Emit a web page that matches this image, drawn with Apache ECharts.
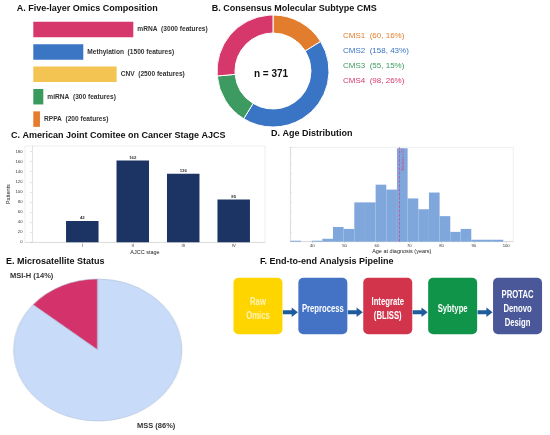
<!DOCTYPE html>
<html><head><meta charset="utf-8">
<script src="https://cdn.jsdelivr.net/npm/echarts@6/dist/echarts.min.js"></script>
<style>
html,body{margin:0;padding:0;background:#fff;}
#main{width:550px;height:435px;position:absolute;left:0;top:0;}
#pieE{position:absolute;left:0;top:270px;width:200px;height:160px;transform-origin:97.7px 80px;transform:scaleX(1.183);}
</style>
</head><body>
<div id="main"></div><div id="pieE"></div>
<script>
// ---------- data ----------
const omicsLayers = ['mRNA', 'Methylation', 'CNV', 'miRNA', 'RPPA'];
const omicsFeatures = [3000, 1500, 2500, 300, 200];
const cmsNames = ['CMS1', 'CMS2', 'CMS3', 'CMS4'];
const cmsCounts = [60, 158, 55, 98];
const ajccStages = ['I', 'II', 'III', 'IV'];
const ajccPatients = [42, 162, 136, 85];
const ageBinEdges = [33.2, 36.5, 39.8, 43.1, 46.4, 49.7, 53.0, 56.3, 59.6, 62.9, 66.2, 69.5, 72.8, 76.1, 79.4, 82.7, 85.9, 89.2, 92.5, 95.8, 99.1];
const ageCounts = [1, 0, 1, 3, 15, 13, 40, 40, 58, 53, 95, 44, 33, 50, 26, 10, 13, 2, 2, 2];
const ageMedian = 67;
const ageTicks = [40, 50, 60, 70, 80, 90, 100];
const msiNames = ['MSI-H', 'MSS'];
const msiPercent = [14, 86];
const pipelineSteps = ['Raw\nOmics', 'Preprocess', 'Integrate\n(BLISS)', 'Sybtype', 'PROTAC\nDenovo\nDesign'];

// ---------- styles ----------
const FONT = "'Liberation Sans', Arial, sans-serif";
const omicsColors = ['#d6386c', '#3a76c4', '#f3c452', '#3a9a5e', '#e57c2e'];
const cmsColors = ['#e27d2d', '#3a74c4', '#3d9a60', '#d6386c'];
const msiColors = ['#d3336a', '#c8dbf8'];
const stepColors = ['#ffd500', '#4472c4', '#d1344b', '#10944a', '#4a5899'];
const stepTextColors = ['#fff3b8', '#ffffff', '#ffffff', '#ffffff', '#ffffff'];
const cmsTotal = cmsCounts.reduce((a, b) => a + b, 0);

const titles = [
  ['A. Five-layer Omics Composition', 16.7, 9],
  ['B. Consensus Molecular Subtype CMS', 211.7, 9],
  ['C. American Joint Comitee on Cancer Stage AJCS', 11, 136],
  ['D. Age Distribution', 271, 134.3],
  ['E. Microsatellite Status', 6, 262.3],
  ['F. End-to-end Analysis Pipeline', 260, 262.3]
];

const main = echarts.init(document.getElementById('main'));
main.setOption({
  animation: false,
  backgroundColor: '#fff',
  textStyle: {fontFamily: FONT},
  title: titles.map(([t, x, y]) => ({
    text: t, left: x, top: y - 4.8, padding: 0,
    textStyle: {fontSize: 9, fontWeight: 'bold', color: '#111', fontFamily: FONT}
  })),
  legend: {
    data: cmsNames.map((n, i) => ({name: n, textStyle: {color: cmsColors[i]}})),
    orient: 'vertical', left: 338, top: 31, icon: 'none',
    itemWidth: 0, itemHeight: 10, itemGap: 6, padding: 0, selectedMode: false,
    textStyle: {fontSize: 8, fontFamily: FONT},
    formatter: name => {
      const i = cmsNames.indexOf(name);
      return name + '  (' + cmsCounts[i] + ', ' + Math.round(cmsCounts[i] / cmsTotal * 100) + '%)';
    }
  },
  grid: [
    {left: 33.3, top: 18.3, width: 100, height: 112},
    {left: 25, top: 146, width: 240, height: 96.3, show: true, borderColor: '#e2e2e2', borderWidth: 0.6},
    {left: 290.3, top: 147.3, width: 223, height: 94.4, show: true, borderColor: '#e2e2e2', borderWidth: 0.6},
    {left: 225.5, top: 277.7, width: 327.5, height: 56.6}
  ],
  xAxis: [
    {gridIndex: 0, type: 'value', min: 0, max: 3000, show: false},
    {gridIndex: 1, type: 'value', min: -0.135, max: 4.62,
      splitLine: {show: false},
      axisLine: {show: true, lineStyle: {color: '#d0d0d0', width: 0.6}},
      axisTick: {show: true, customValues: [1, 2, 3, 4], length: 1.5, lineStyle: {color: '#bbb', width: 0.5}},
      axisLabel: {customValues: [1, 2, 3, 4], formatter: v => ajccStages[Math.round(v) - 1], fontSize: 4.2, color: '#333', margin: 2},
      name: 'AJCC stage', nameLocation: 'middle', nameGap: 6,
      nameTextStyle: {fontSize: 5.5, color: '#222'}},
    {gridIndex: 2, type: 'value', min: 33.2, max: 102.2,
      splitLine: {show: false},
      axisLine: {show: true, lineStyle: {color: '#d0d0d0', width: 0.6}},
      axisTick: {show: true, customValues: ageTicks, length: 1.5, lineStyle: {color: '#bbb', width: 0.5}},
      axisLabel: {customValues: ageTicks, fontSize: 4.2, color: '#333', margin: 2},
      name: 'Age at diagnosis (years)', nameLocation: 'middle', nameGap: 6,
      nameTextStyle: {fontSize: 5.5, color: '#222'}},
    {gridIndex: 3, type: 'value', min: -0.5, max: 4.5, show: false}
  ],
  yAxis: [
    {gridIndex: 0, type: 'category', data: omicsLayers, inverse: true, show: false},
    {gridIndex: 1, type: 'value', min: 0, max: 191, interval: 20,
      splitLine: {show: false},
      axisLine: {show: true, lineStyle: {color: '#d0d0d0', width: 0.6}},
      axisTick: {show: true, length: 1.5, lineStyle: {color: '#bbb', width: 0.5}},
      axisLabel: {fontSize: 4.2, color: '#333', margin: 2.5, showMaxLabel: false},
      name: 'Patients', nameLocation: 'middle', nameGap: 12, nameRotate: 90,
      nameTextStyle: {fontSize: 5.5, color: '#222'}},
    {gridIndex: 2, type: 'value', min: 0, max: 96, interval: 10,
      splitLine: {show: false},
      axisLine: {show: true, lineStyle: {color: '#d0d0d0', width: 0.6}},
      axisTick: {show: true, inside: true, length: 1.5, lineStyle: {color: '#ccc', width: 0.5}},
      axisLabel: {show: false}},
    {gridIndex: 3, type: 'value', min: -1, max: 1, show: false}
  ],
  series: [
    {
      type: 'bar', xAxisIndex: 0, yAxisIndex: 0, barWidth: 15.5,
      data: omicsFeatures.map((v, i) => ({value: v, itemStyle: {color: omicsColors[i]}})),
      label: {show: true, position: 'right', distance: 4, fontSize: 6.6, fontWeight: 'bold', color: '#333',
        formatter: p => p.name + '  (' + p.value + ' features)'}
    },
    {
      type: 'pie', center: [273, 71], radius: [38, 56], startAngle: 90, clockwise: true,
      label: {show: false}, labelLine: {show: false}, emphasis: {disabled: true},
      itemStyle: {borderColor: '#fff', borderWidth: 1},
      data: cmsNames.map((n, i) => ({name: n, value: cmsCounts[i], itemStyle: {color: cmsColors[i]}}))
    },
    {
      type: 'bar', xAxisIndex: 1, yAxisIndex: 1, barWidth: 32.5,
      itemStyle: {color: '#1b3464'},
      data: ajccPatients.map((v, i) => [i + 1, v]),
      label: {show: true, position: 'top', distance: 1, fontSize: 4.3, fontWeight: 'bold', color: '#333',
        formatter: p => p.value[1]}
    },
    {
      type: 'custom', xAxisIndex: 2, yAxisIndex: 2,
      data: ageCounts.map((c, i) => [ageBinEdges[i], ageBinEdges[i + 1], c]),
      encode: {x: [0, 1], y: 2},
      renderItem: (params, api) => {
        const p0 = api.coord([api.value(0), api.value(2)]);
        const p1 = api.coord([api.value(1), 0]);
        return {type: 'rect', shape: {x: p0[0], y: p0[1], width: p1[0] - p0[0], height: p1[1] - p0[1]},
          style: {fill: '#80a7dc'}};
      },
      markLine: {
        silent: true, symbol: 'none',
        lineStyle: {color: '#d9408a', type: 'dashed', width: 0.7},
        label: {show: true, position: 'insideEndBottom', formatter: 'Median = ' + ageMedian, fontSize: 4, color: '#d9408a', distance: 1},
        data: [{xAxis: ageMedian}]
      }
    },
    {
      type: 'custom', xAxisIndex: 3, yAxisIndex: 3,
      data: pipelineSteps.map((s, i) => [i, 0]),
      renderItem: (params, api) => {
        const c = api.coord([api.value(0), api.value(1)]);
        const i = params.dataIndex;
        return {
          type: 'group',
          children: [
            {type: 'rect', shape: {x: c[0] - 24.5, y: c[1] - 28.3, width: 49, height: 56.6, r: 5},
              style: {fill: stepColors[i]}},
            {type: 'text', x: c[0], y: c[1] + 2.5, scaleX: 0.7,
              style: {text: pipelineSteps[i], fill: stepTextColors[i], fontSize: 11, fontWeight: 'bold',
                lineHeight: 14, fontFamily: FONT, align: 'center', verticalAlign: 'middle'}}
          ]
        };
      }
    },
    {
      type: 'custom', xAxisIndex: 3, yAxisIndex: 3,
      data: pipelineSteps.slice(1).map((s, i) => [i + 0.5, 0]),
      renderItem: (params, api) => {
        const c = api.coord([api.value(0), api.value(1)]);
        const x = c[0], y = c[1] + 6.3;
        return {type: 'polygon', shape: {points: [
          [x - 7.5, y - 2], [x + 1.3, y - 2], [x + 1.3, y - 4.7], [x + 7.5, y],
          [x + 1.3, y + 4.7], [x + 1.3, y + 2], [x - 7.5, y + 2]]},
          style: {fill: '#1f5c9c'}};
      }
    }
  ],
  graphic: [
    {type: 'text', x: 271, y: 74, style: {text: 'n = ' + cmsTotal, fontSize: 10, fontWeight: 'bold', fill: '#111',
      fontFamily: FONT, align: 'center', verticalAlign: 'middle'}},
    {type: 'text', x: 10, y: 275.7, style: {text: msiNames[0] + ' (' + msiPercent[0] + '%)', fontSize: 7.5, fontWeight: 'bold',
      fill: '#333', fontFamily: FONT, align: 'left', verticalAlign: 'middle'}},
    {type: 'text', x: 137, y: 425.7, style: {text: msiNames[1] + ' (' + msiPercent[1] + '%)', fontSize: 7.5, fontWeight: 'bold',
      fill: '#333', fontFamily: FONT, align: 'left', verticalAlign: 'middle'}}
  ]
});

const pieE = echarts.init(document.getElementById('pieE'));
pieE.setOption({
  animation: false,
  series: [{
    type: 'pie', center: [97.7, 80], radius: 71, startAngle: 90, clockwise: false,
    label: {show: false}, labelLine: {show: false}, emphasis: {disabled: true},
    itemStyle: {borderColor: '#a9b9d2', borderWidth: 0.5},
    data: msiNames.map((n, i) => ({name: n, value: msiPercent[i], itemStyle: {color: msiColors[i]}}))
  }]
});
</script>
</body></html>
